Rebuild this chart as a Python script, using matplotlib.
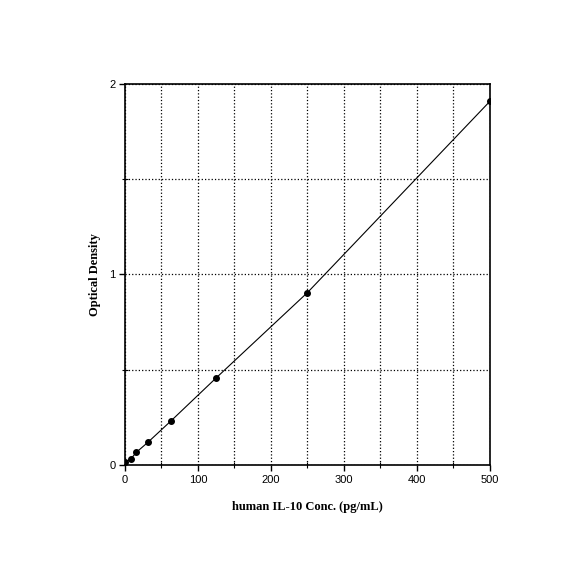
import numpy as np
import matplotlib.pyplot as plt
from matplotlib.ticker import MultipleLocator

# standard curve data
conc = [0, 7.8, 15.6, 31.25, 62.5, 125, 250, 500]
od = [0.014, 0.03, 0.066, 0.118, 0.229, 0.457, 0.905, 1.91]

xticks = [0, 100, 200, 300, 400, 500]
yticks = [0, 1, 2]

fig = plt.figure(figsize=[5.84, 5.84], dpi=100)
ax = fig.add_axes([0.214, 0.204, 0.625, 0.652])

ax.plot(conc, od, 'k-', lw=0.8)
ax.plot(conc, od, 'ko', ms=4)

ax.set_xlim(0, 500)
ax.set_ylim(0, 2)
ax.set_xticks(xticks)
ax.set_yticks(yticks)
ax.xaxis.set_minor_locator(MultipleLocator(50))
ax.yaxis.set_minor_locator(MultipleLocator(0.5))

#-- dotted grid every 50 / 0.5
ax.grid(True, which='both', color='k', ls=':', lw=0.9)

for spine in ax.spines.values():
    spine.set_linewidth(1.2)

ax.tick_params(which='major', direction='out', length=4, width=1,
               labelsize=8, pad=3)
ax.tick_params(which='minor', direction='inout', length=4, width=0.8)
for lab in ax.get_xticklabels() + ax.get_yticklabels():
    lab.set_family('Liberation Sans')

ax.set_xlabel('human IL-10 Conc. (pg/mL)', family='Liberation Serif',
              fontweight='bold', fontsize=9, labelpad=12)
ax.set_ylabel('Optical Density', family='Liberation Serif',
              fontweight='bold', fontsize=9, labelpad=6)

plt.savefig('out.png', dpi=100)
